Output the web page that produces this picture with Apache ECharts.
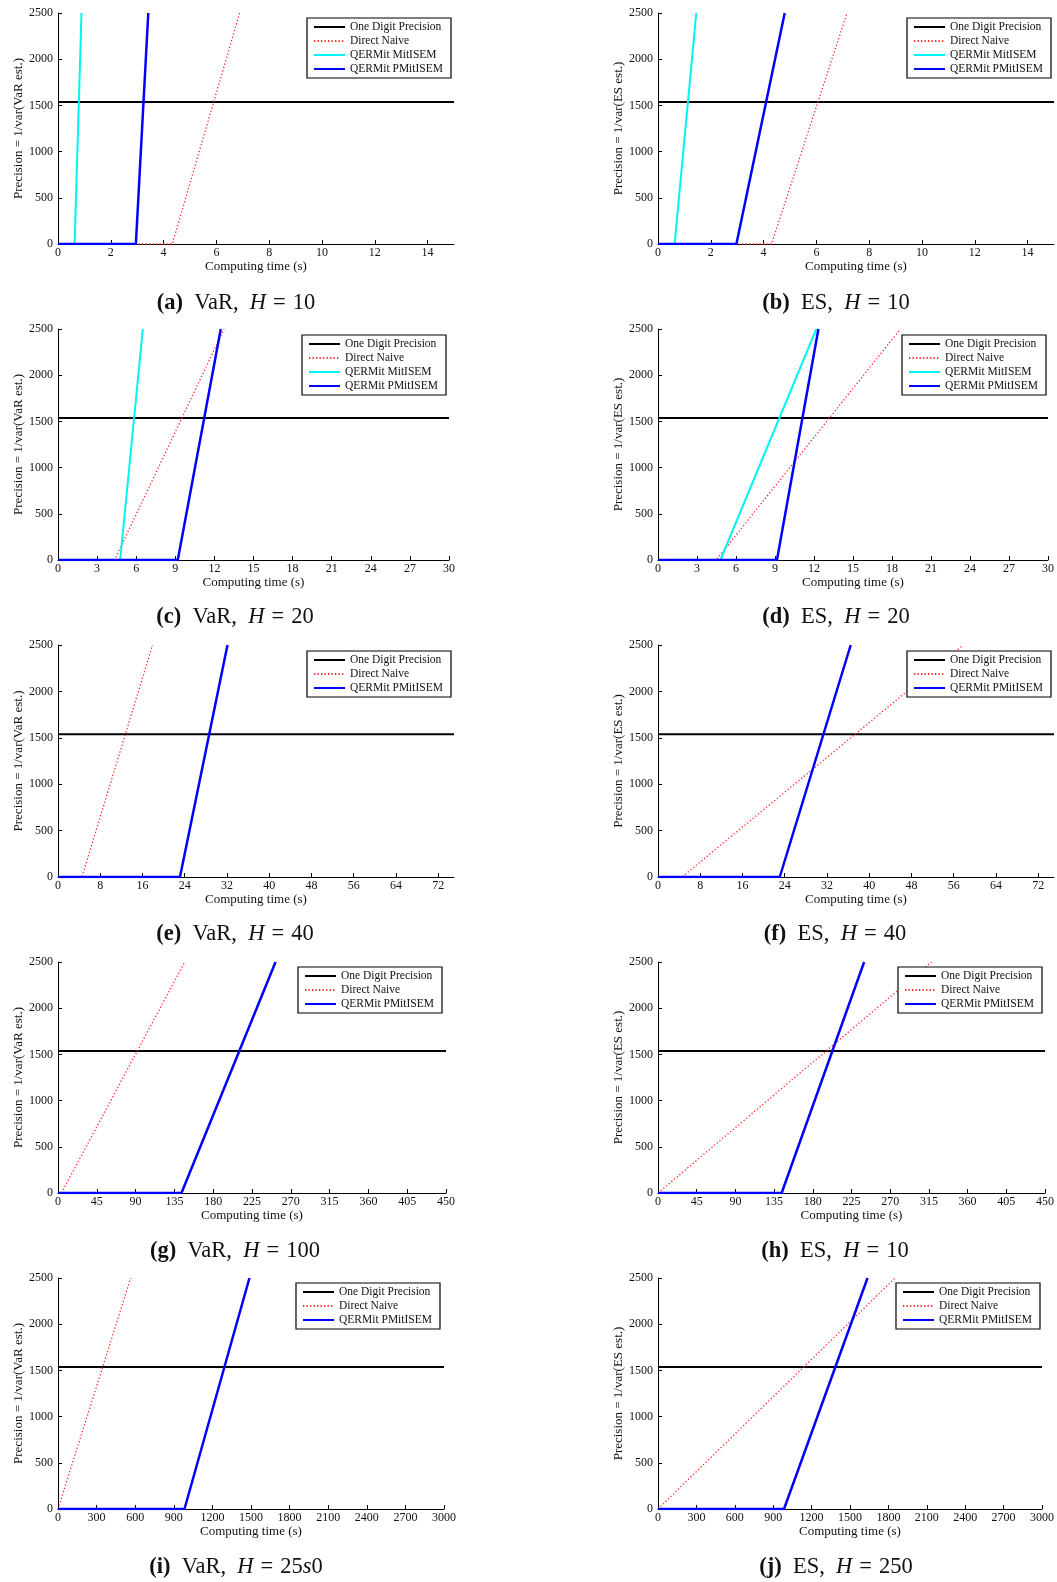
<!DOCTYPE html>
<html>
<head>
<meta charset="utf-8">
<script src="https://cdn.jsdelivr.net/npm/echarts@6/dist/echarts.min.js"></script>
<style>
  html, body { margin: 0; padding: 0; background: #fff; }
  #chart { width: 1057px; height: 1582px; }
</style>
</head>
<body>
<div id="chart"></div>
<script>
// ---- data ----------------------------------------------------------------
const seriesNames = ['One Digit Precision', 'Direct Naive', 'QERMit MitISEM', 'QERMit PMitISEM'];
const oneDigitPrecision = 1538;
const yTicks = [0, 500, 1000, 1500, 2000, 2500];

// x-axis upper limits for panels a..j
const xMax = [15, 15, 30, 30, 75, 75, 450, 450, 3000, 3000];

// x-axis tick labels
const xTicksH10 = [0, 2, 4, 6, 8, 10, 12, 14];
const xTicksH20 = [0, 3, 6, 9, 12, 15, 18, 21, 24, 27, 30];
const xTicksH40 = [0, 8, 16, 24, 32, 40, 48, 56, 64, 72];
const xTicksH100 = [0, 45, 90, 135, 180, 225, 270, 315, 360, 405, 450];
const xTicksH250 = [0, 300, 600, 900, 1200, 1500, 1800, 2100, 2400, 2700, 3000];

// [computing time (s), precision] points
const naiveA = [[0, 0], [4.33, 0], [6.88, 2500]];
const mitA   = [[0, 0], [0.63, 0], [0.89, 2500]];
const pmitA  = [[0, 0], [2.95, 0], [3.42, 2500]];

const naiveB = [[0, 0], [4.30, 0], [7.16, 2500]];
const mitB   = [[0, 0], [0.63, 0], [1.45, 2500]];
const pmitB  = [[0, 0], [2.97, 0], [4.80, 2500]];

const naiveC = [[0, 0], [4.34, 0], [12.74, 2500]];
const mitC   = [[0, 0], [4.77, 0], [6.51, 2500]];
const pmitC  = [[0, 0], [9.19, 0], [12.49, 2500]];

const naiveD = [[0, 0], [4.47, 0], [18.65, 2500]];
const mitD   = [[0, 0], [4.80, 0], [12.18, 2500]];
const pmitD  = [[0, 0], [9.15, 0], [12.34, 2500]];

const naiveE = [[0, 0], [4.54, 0], [17.9, 2500]];
const pmitE  = [[0, 0], [23.1, 0], [32.1, 2500]];

const naiveF = [[0, 0], [4.55, 0], [57.8, 2500]];
const pmitF  = [[0, 0], [23.06, 0], [36.5, 2500]];

const naiveG = [[0, 0], [4, 0], [147, 2500]];
const pmitG  = [[0, 0], [143.2, 0], [252.3, 2500]];

const naiveH = [[0, 0], [2, 0], [318, 2500]];
const pmitH  = [[0, 0], [143.8, 0], [239.7, 2500]];

const naiveI = [[0, 0], [8, 0], [565, 2500]];
const pmitI  = [[0, 0], [983, 0], [1488, 2500]];

const naiveJ = [[0, 0], [5, 0], [1852, 2500]];
const pmitJ  = [[0, 0], [984.5, 0], [1637, 2500]];

// sub-figure captions: letter, risk measure, horizon
const captionLetters = ['(a)', '(b)', '(c)', '(d)', '(e)', '(f)', '(g)', '(h)', '(i)', '(j)'];
const captionMeasures = ['VaR', 'ES', 'VaR', 'ES', 'VaR', 'ES', 'VaR', 'ES', 'VaR', 'ES'];
const captionHorizons = ['10', '10', '20', '20', '40', '40', '100', '10', '25s0', '250'];

// ---- layout --------------------------------------------------------------
const FONT = '"Liberation Serif", "DejaVu Serif", serif';
const gridBoxes = [
  [58, 13, 396, 231], [658, 13, 396, 231],
  [58, 329, 391, 231], [658, 329, 392, 231],
  [58, 645, 396, 232], [658, 645, 396, 232],
  [58, 962, 388, 231], [658, 962, 388, 231],
  [58, 1278, 386, 231], [658, 1278, 386, 231]
];
const legendPos = [
  [307, 18], [907, 18], [302, 335], [902, 335], [307, 651],
  [907, 651], [298, 967], [898, 967], [296, 1283], [896, 1283]
];
const captionPos = [
  [236, 303], [836, 303], [235, 617], [836, 617], [235, 934],
  [835, 934], [235, 1251], [835, 1251], [236, 1567], [836, 1567]
];

const panels = [
  { ticks: xTicksH10, naive: naiveA, mit: mitA, pmit: pmitA },
  { ticks: xTicksH10, naive: naiveB, mit: mitB, pmit: pmitB },
  { ticks: xTicksH20, naive: naiveC, mit: mitC, pmit: pmitC },
  { ticks: xTicksH20, naive: naiveD, mit: mitD, pmit: pmitD },
  { ticks: xTicksH40, naive: naiveE, pmit: pmitE },
  { ticks: xTicksH40, naive: naiveF, pmit: pmitF },
  { ticks: xTicksH100, naive: naiveG, pmit: pmitG },
  { ticks: xTicksH100, naive: naiveH, pmit: pmitH },
  { ticks: xTicksH250, naive: naiveI, pmit: pmitI },
  { ticks: xTicksH250, naive: naiveJ, pmit: pmitJ }
];

const styles = {
  'One Digit Precision': { color: '#000000', width: 2, type: 'solid' },
  'Direct Naive':        { color: '#ff2a2a', width: 1.3, type: [1.3, 2.2] },
  'QERMit MitISEM':      { color: '#00f4f4', width: 2, type: 'solid' },
  'QERMit PMitISEM':     { color: '#0000ff', width: 2.5, type: 'solid' }
};

const plain = v => String(v);
const grid = [], xAxis = [], yAxis = [], series = [], legend = [], graphic = [];

panels.forEach((p, i) => {
  const [gl, gt, gw, gh] = gridBoxes[i];
  grid.push({ left: gl, top: gt, width: gw, height: gh, containLabel: false });

  xAxis.push({
    type: 'value', gridIndex: i, min: 0, max: xMax[i],
    axisLine: { onZero: false, lineStyle: { color: '#000', width: 1 } },
    axisTick: { inside: true, length: 4, customValues: p.ticks, lineStyle: { color: '#000' } },
    axisLabel: { customValues: p.ticks, formatter: plain, margin: 3, fontSize: 12, color: '#111', fontFamily: FONT },
    splitLine: { show: false },
    name: 'Computing time (s)', nameLocation: 'middle', nameGap: 14,
    nameTextStyle: { fontSize: 13, color: '#111', fontFamily: FONT }
  });

  yAxis.push({
    type: 'value', gridIndex: i, min: 0, max: 2500, interval: 500,
    axisLine: { show: true, lineStyle: { color: '#000', width: 1 } },
    axisTick: { show: true, inside: true, length: 4, customValues: yTicks, lineStyle: { color: '#000' } },
    axisLabel: { customValues: yTicks, formatter: plain, margin: 5, fontSize: 12, color: '#111', fontFamily: FONT },
    splitLine: { show: false },
    name: 'Precision = 1/var(' + captionMeasures[i] + ' est.)',
    nameLocation: 'middle', nameGap: 32,
    nameTextStyle: { fontSize: 13, color: '#111', fontFamily: FONT }
  });

  const names = [seriesNames[0], seriesNames[1]];
  if (p.mit) names.push(seriesNames[2]);
  names.push(seriesNames[3]);

  const dataByName = {
    'One Digit Precision': [[0, oneDigitPrecision], [xMax[i], oneDigitPrecision]],
    'Direct Naive': p.naive,
    'QERMit MitISEM': p.mit,
    'QERMit PMitISEM': p.pmit
  };

  names.forEach(n => {
    const s = styles[n];
    series.push({
      type: 'line', name: n, xAxisIndex: i, yAxisIndex: i,
      data: dataByName[n], symbol: 'none', clip: true,
      lineStyle: { color: s.color, width: s.width, type: s.type },
      itemStyle: { color: s.color },
      emphasis: { disabled: true }
    });
  });

  legend.push({
    left: legendPos[i][0], top: legendPos[i][1], orient: 'vertical',
    data: names, selectedMode: false,
    itemWidth: 31, itemHeight: 12, itemGap: 2,
    padding: [3, 6, 3, 6],
    borderColor: '#000', borderWidth: 1.2, backgroundColor: '#fff',
    itemStyle: { opacity: 0 },
    textStyle: { fontSize: 11.5, lineHeight: 12, width: 95, color: '#111', fontFamily: FONT }
  });

  const h = captionHorizons[i];
  const hText = h.indexOf('s') >= 0
    ? '{r|' + h.split('s')[0] + '}{i|s}{r|' + h.split('s')[1] + '}'
    : '{r|' + h + '}';
  graphic.push({
    type: 'text', x: captionPos[i][0], y: captionPos[i][1],
    style: {
      text: '{b|' + captionLetters[i] + '}{r|  ' + captionMeasures[i] + ',  }{i|H}{eq|=}' + hText,
      align: 'center', verticalAlign: 'middle',
      rich: {
        b: { fontSize: 22.5, fontWeight: 'bold', fontFamily: FONT, fill: '#111' },
        r: { fontSize: 22.5, fontFamily: FONT, fill: '#111' },
        i: { fontSize: 22.5, fontStyle: 'italic', fontFamily: FONT, fill: '#111' },
        eq: { fontSize: 22.5, fontFamily: FONT, fill: '#111', padding: [0, 7, 0, 7] }
      }
    }
  });
});

const chart = echarts.init(document.getElementById('chart'), null, { renderer: 'canvas' });
chart.setOption({
  backgroundColor: '#fff',
  animation: false,
  grid, xAxis, yAxis, series, legend, graphic
});
</script>
</body>
</html>
